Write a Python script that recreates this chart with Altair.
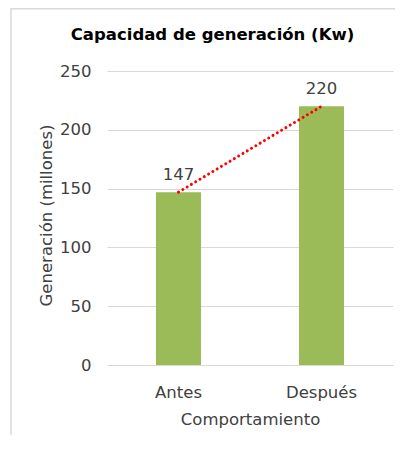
import altair as alt
import pandas as pd

categorias = ["Antes", "Después"]
valores = [147, 220]
ticks_y = [0, 50, 100, 150, 200, 250]

titulo = "Capacidad de generación (Kw)"
titulo_x = "Comportamiento"
titulo_y = "Generación (millones)"

df = pd.DataFrame({"Comportamiento": categorias, "Generacion": valores})

FONT = "DejaVu Sans"
TXT = "#404040"
GRID = "#d9d9d9"
FS = 16.5

x_enc = alt.X(
    "Comportamiento:N",
    sort=categorias,
    scale=alt.Scale(paddingInner=0.685, paddingOuter=0.3425),
    axis=alt.Axis(
        title=titulo_x,
        labelAngle=0,
        labelFont=FONT,
        labelFontSize=FS,
        labelColor=TXT,
        labelPadding=32,
        labelBaseline="alphabetic",
        ticks=False,
        tickSize=0,
        domain=True,
        domainColor=GRID,
        titleFont=FONT,
        titleFontSize=FS,
        titleFontWeight="normal",
        titleColor=TXT,
        titleX=143,
        titleY=59,
        titleBaseline="alphabetic",
        titleAlign="center",
    ),
)

y_enc = alt.Y(
    "Generacion:Q",
    scale=alt.Scale(domain=[0, 250], nice=False),
    axis=alt.Axis(
        values=ticks_y,
        title=titulo_y,
        grid=True,
        gridColor=GRID,
        gridWidth=1,
        domain=False,
        ticks=False,
        tickSize=0,
        labelPadding=16,
        labelFont=FONT,
        labelFontSize=FS,
        labelColor=TXT,
        titleFont=FONT,
        titleFontSize=FS,
        titleFontWeight="normal",
        titleColor=TXT,
        titleX=-61,
        titleY=144,
        titleAngle=270,
        titleBaseline="middle",
        titleAlign="center",
    ),
)

one = pd.DataFrame({"t": [titulo]})

frame = alt.Chart(one).mark_rect(
    fillOpacity=0, stroke=GRID, strokeWidth=1.5
).encode(
    x=alt.value(-96), x2=alt.value(320), y=alt.value(-62.3), y2=alt.value(400)
)

title_mark = alt.Chart(one).mark_text(
    font=FONT, fontSize=FS, fontWeight="bold", color="#000000",
    align="center", baseline="alphabetic",
).encode(x=alt.value(105.5), y=alt.value(-31), text="t:N")

bars = alt.Chart(df).mark_bar(color="#9BBB59").encode(x=x_enc, y=y_enc)

line = alt.Chart(df).mark_line(
    color="#FF0000", strokeWidth=3, strokeDash=[0.01, 5], strokeCap="round"
).encode(x=x_enc, y=y_enc)

labels = alt.Chart(df).mark_text(
    dy=-12, baseline="alphabetic", font=FONT, fontSize=FS, color=TXT
).encode(x=x_enc, y=y_enc, text="Generacion:Q")

chart = alt.layer(frame, title_mark, bars, line, labels).properties(
    width=286,
    height=294,
    autosize=alt.AutoSizeParams(type="none"),
    padding={"left": 99, "top": 63, "right": 2, "bottom": 70},
).configure_view(stroke=None)

chart.save("out.html", embed_options={"renderer": "svg", "actions": False})
